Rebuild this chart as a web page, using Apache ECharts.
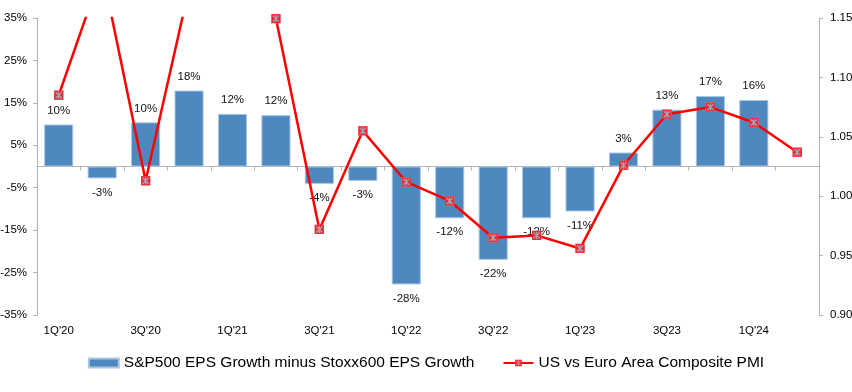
<!DOCTYPE html>
<html>
<head>
<meta charset="utf-8">
<script src="https://cdn.jsdelivr.net/npm/echarts@6/dist/echarts.min.js"></script>
<style>
html,body{margin:0;padding:0;background:#fff;}
#chart{width:852px;height:392px;}
</style>
</head>
<body>
<div id="chart"></div>
<script>
// ---- data ----
var categories = ["1Q'20","2Q'20","3Q'20","4Q'20","1Q'21","2Q'21","3Q'21","4Q'21","1Q'22","2Q'22","3Q'22","4Q'22","1Q'23","2Q'23","3Q23","4Q23","1Q'24","2Q'24"];
var epsGrowthDiff = [9.9, -2.8, 10.4, 17.9, 12.4, 12.1, -4.1, -3.4, -27.8, -12.2, -22.0, -12.2, -10.6, 3.3, 13.4, 16.6, 15.7, null];
var pmiRatio = [1.085, 1.19, 1.013, 1.175, 1.21, 1.1495, 0.972, 1.055, 1.012, 0.996, 0.965, 0.967, 0.956, 1.026, 1.069, 1.075, 1.062, 1.037];
var leftTicks = {min: -35, max: 35, interval: 10};
var rightTicks = {min: 0.90, max: 1.15, interval: 0.05};
var seriesNames = ["S&P500 EPS Growth minus Stoxx600 EPS Growth", "US vs Euro Area Composite PMI"];

// ---- styles ----
var FONT = "'Liberation Sans', Arial, sans-serif";
var markerSvg = "<svg xmlns='http://www.w3.org/2000/svg' width='20' height='20'>" +
  "<rect x='0.5' y='0.5' width='19' height='19' fill='#ee2a35' stroke='#f26d74' stroke-width='1'/>" +
  "<path d='M4 4L16 16M16 4L4 16M10 3V17' stroke='#a4a6b8' stroke-width='2.4'/></svg>";
var markerSymbol = 'image://data:image/svg+xml;charset=utf-8,' + encodeURIComponent(markerSvg);

var barData = epsGrowthDiff.map(function (v) {
  if (v === null) return '-';
  return {value: v, label: {position: v >= 0 ? 'top' : 'bottom'}};
});

var chart = echarts.init(document.getElementById('chart'), null, {renderer: 'canvas'});
chart.setOption({
  animation: false,
  textStyle: {fontFamily: FONT},
  grid: {left: 37, right: 33, top: 18, bottom: 77, containLabel: false, outerBoundsMode: 'none'},
  legend: {
    bottom: 16,
    left: 'center',
    itemWidth: 30,
    itemHeight: 9,
    itemGap: 28,
    textStyle: {fontFamily: FONT, fontSize: 15.5, color: '#000'},
    data: [
      {name: seriesNames[0], icon: 'rect'},
      {name: seriesNames[1]}
    ]
  },
  xAxis: [
    {
      type: 'category',
      data: categories,
      boundaryGap: true,
      axisLine: {onZero: true, lineStyle: {color: '#b4b4b4', width: 1}},
      axisTick: {show: true, interval: 0, length: 4, inside: false, lineStyle: {color: '#b4b4b4'}},
      axisLabel: {show: false}
    },
    {
      type: 'category',
      data: categories,
      position: 'bottom',
      boundaryGap: true,
      axisLine: {show: false, onZero: false},
      axisTick: {show: false},
      axisLabel: {interval: 1, margin: 10, fontFamily: FONT, fontSize: 11.5, color: '#000'}
    }
  ],
  yAxis: [
    {
      type: 'value',
      min: leftTicks.min, max: leftTicks.max, interval: leftTicks.interval,
      position: 'left',
      splitLine: {show: false},
      axisLine: {show: true, lineStyle: {color: '#b4b4b4'}},
      axisTick: {show: true, length: 4, lineStyle: {color: '#b4b4b4'}},
      axisLabel: {formatter: '{value}%', margin: 10, fontFamily: FONT, fontSize: 11.5, color: '#000'}
    },
    {
      type: 'value',
      min: rightTicks.min, max: rightTicks.max, interval: rightTicks.interval,
      position: 'right',
      alignTicks: false,
      splitLine: {show: false},
      axisLine: {show: true, lineStyle: {color: '#b4b4b4'}},
      axisTick: {show: true, length: 4, lineStyle: {color: '#b4b4b4'}},
      axisLabel: {formatter: function (v) { return v.toFixed(2); }, margin: 11, fontFamily: FONT, fontSize: 11.5, color: '#000'}
    }
  ],
  series: [
    {
      name: seriesNames[0],
      type: 'bar',
      xAxisIndex: 0,
      yAxisIndex: 0,
      data: barData,
      barWidth: '67%',
      itemStyle: {color: '#4f88be', borderColor: '#a9c6e3', borderWidth: 1},
      label: {
        show: true,
        distance: 8,
        fontFamily: FONT,
        fontSize: 11.5,
        color: '#111',
        formatter: function (p) { return Math.round(p.value) + '%'; }
      }
    },
    {
      name: seriesNames[1],
      type: 'line',
      xAxisIndex: 0,
      yAxisIndex: 1,
      data: pmiRatio,
      clip: true,
      symbol: markerSymbol,
      symbolSize: 10,
      showAllSymbol: true,
      lineStyle: {color: '#ff0000', width: 2.5},
      itemStyle: {color: '#ff0000'},
      z: 5
    }
  ]
});
</script>
</body>
</html>
